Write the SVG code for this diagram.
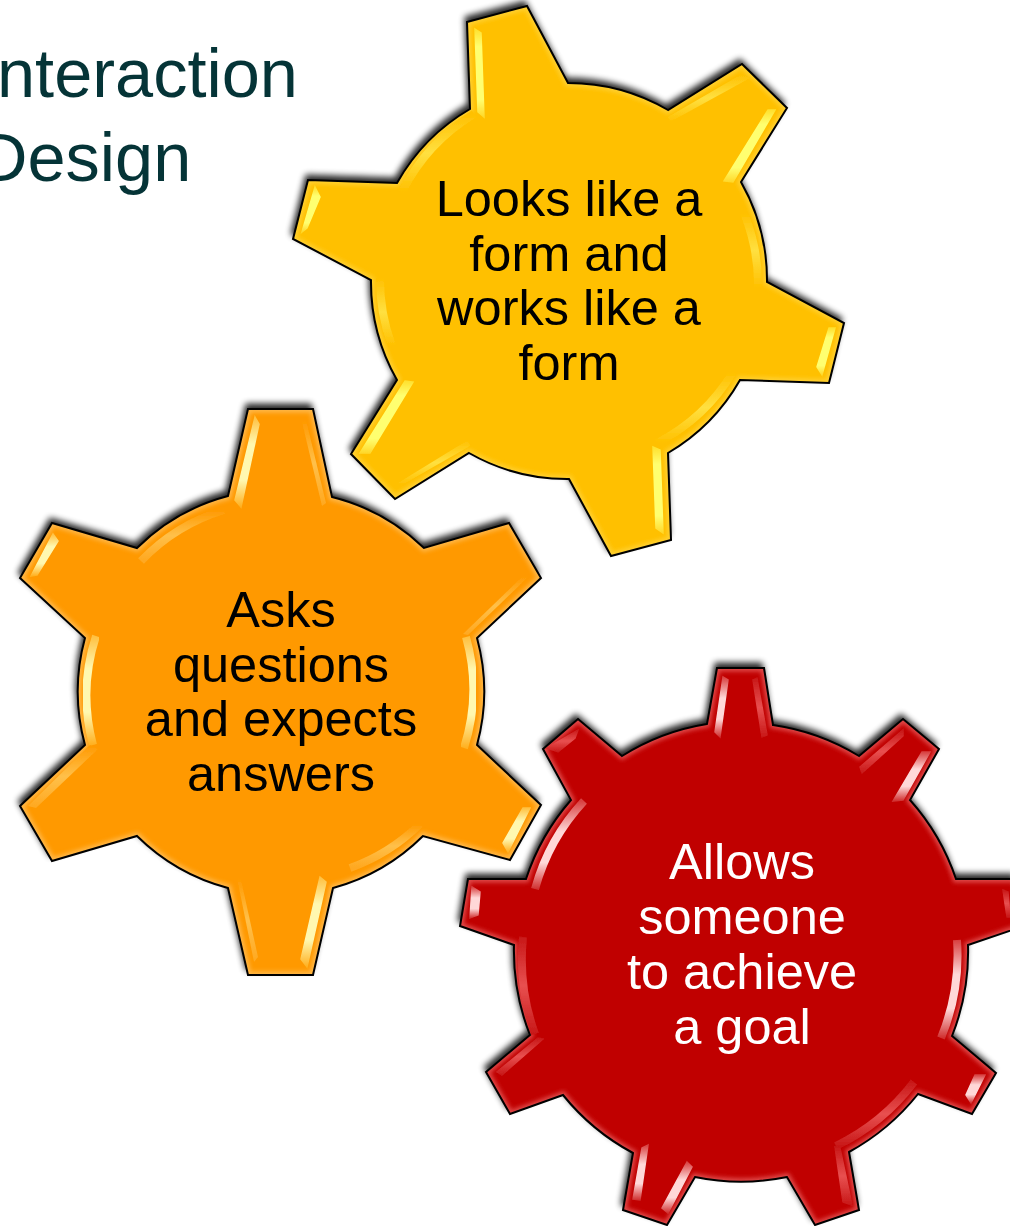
<svg xmlns="http://www.w3.org/2000/svg" width="1010" height="1226" viewBox="0 0 1010 1226">
<style>
.t{font-family:"Liberation Sans",Arial,sans-serif;font-size:50.5px;text-anchor:middle}
.title{font-family:"Liberation Sans",Arial,sans-serif;font-size:68.5px;fill:#053437}
.sh{fill:#000;stroke:#000;stroke-width:1;opacity:.85;filter:url(#shb)}
.edge{fill:none;stroke:#000;stroke-width:2;stroke-linejoin:miter}
.glow{fill:none;stroke-width:7;filter:url(#b2)}
.s{filter:url(#b1);stroke-width:1.500}
.a{fill:none;stroke-width:8;filter:url(#b1)}
.ay{fill:url(#hy);stroke:url(#hy)}.fy{fill:url(#fy)}
.ao{fill:url(#ho);stroke:url(#ho)}.fo{fill:url(#fo)}
.ar{fill:url(#hr);stroke:url(#hr)}.fr{fill:url(#fr);stroke:url(#fr)}
</style>
<defs>
<filter id="shb" x="-10%" y="-10%" width="120%" height="120%"><feGaussianBlur stdDeviation="3"/></filter>
<filter id="b2" x="-10%" y="-10%" width="120%" height="120%"><feGaussianBlur stdDeviation="2"/></filter>
<filter id="b1" x="-30%" y="-30%" width="160%" height="160%"><feGaussianBlur stdDeviation="0.7"/></filter>
<linearGradient id="hy" x1="0" y1="0" x2="0" y2="1"><stop offset="0" stop-color="#ffe02e"/><stop offset=".2" stop-color="#ffff70"/><stop offset=".8" stop-color="#ffff70"/><stop offset="1" stop-color="#ffd82a"/></linearGradient>
<linearGradient id="fy" x1="0" y1="0" x2="0" y2="1"><stop offset="0" stop-color="#ffc000"/><stop offset=".5" stop-color="#ffe040"/><stop offset="1" stop-color="#ffc000"/></linearGradient>
<linearGradient id="ho" x1="0" y1="0" x2="0" y2="1"><stop offset="0" stop-color="#ffc040"/><stop offset=".3" stop-color="#fff8b0"/><stop offset=".7" stop-color="#fff8b0"/><stop offset="1" stop-color="#ffb020"/></linearGradient>
<linearGradient id="fo" x1="0" y1="0" x2="0" y2="1"><stop offset="0" stop-color="#ff9900"/><stop offset=".5" stop-color="#ffc04a"/><stop offset="1" stop-color="#ffa820"/></linearGradient>
<linearGradient id="hr" x1="0" y1="0" x2="0" y2="1"><stop offset="0" stop-color="#d84040"/><stop offset=".35" stop-color="#ffd8d8"/><stop offset=".7" stop-color="#ffd8d8"/><stop offset="1" stop-color="#d03030"/></linearGradient>
<linearGradient id="fr" x1="0" y1="0" x2="0" y2="1"><stop offset="0" stop-color="#c81818"/><stop offset=".5" stop-color="#e85050"/><stop offset="1" stop-color="#c81818"/></linearGradient>
<path id="py" d="M467 22L527 6L568 83A198.500 198.500 0 0 1 668 110L742 64L787 108L741 182A198.500 198.500 0 0 1 767 282L844 323L829 383L740 380A198.500 198.500 0 0 1 668 453L671 540L611 556L569 479A198.500 198.500 0 0 1 469 453L395 499L351 454L397 380A198.500 198.500 0 0 1 371 280L293 239L308 180L397 183A198.500 198.500 0 0 1 470 109Z"/>
<path id="po" d="M248 409L313 409L332 497A203 203 0 0 1 424 548L509 523L541 578L477 638A203 203 0 0 1 477 745L541 805L510 860L423 836A203 203 0 0 1 333 888L313 975L248 975L228 888A203 203 0 0 1 137 836L52 861L20 806L85 745A203 203 0 0 1 85 638L20 578L52 523L137 548A203 203 0 0 1 228 496Z"/>
<path id="pr" d="M717 668L764 668L773 725A228 228 0 0 1 859 756L903 719L939 749L910 800A228 228 0 0 1 956 879L1016 879L1024 926L968 945A228 228 0 0 1 952 1036L996 1073L972 1114L918 1094A228 228 0 0 1 849 1152L859 1210L815 1225L787 1177A228 228 0 0 1 695 1177L667 1225L623 1210L633 1153A228 228 0 0 1 563 1095L510 1114L486 1072L530 1035A228 228 0 0 1 514 945L460 926L468 879L526 879A228 228 0 0 1 571 800L543 749L578 719L622 756A228 228 0 0 1 707 724Z"/>
<clipPath id="cy"><use href="#py"/></clipPath>
<clipPath id="co"><use href="#po"/></clipPath>
<clipPath id="cr"><use href="#pr"/></clipPath>
</defs>
<rect width="1010" height="1226" fill="#fff"/>
<g id="title">
<text class="title" x="-3" y="97">nteraction</text>
<text class="title" x="-22" y="181">Design</text>
</g>
<g id="gear-yellow">
<use href="#py" class="sh" transform="translate(-2,-5)"/>
<use href="#py" fill="#ffc000"/>
<g clip-path="url(#cy)"><use href="#py" class="glow" stroke="#ffd030" stroke-width="7"/></g>
<polygon class="s ay" points="475,29 481,33 484,117 478,112"/>
<path class="a" stroke="url(#fy)" d="M474 114A190 190 0 0 0 402 192"/>
<polygon class="s ay" points="315,187 320,197 307,228 302,232"/>
<polygon class="s ay" points="768,110 775,110 733,182 724,181"/>
<path class="a" stroke="url(#fy)" d="M744 213A190 190 0 0 1 758 288"/>
<polygon class="s ay" points="829,328 835,328 822,375 817,367"/>
<path class="a" stroke="url(#fy)" d="M733 372A190 190 0 0 1 657 443"/>
<polygon class="s ay" points="653,447 660,450 663,533 656,528"/>
<polygon class="s ay" points="405,381 413,382 370,453 360,453"/>
<path class="a" stroke="url(#fy)" d="M380 278A190 190 0 0 0 392 346"/>
<polygon class="s fy" points="468,440 470,446 402,485 398,483"/>
<polygon class="s fy" points="742,74 750,78 670,122 668,117"/>
<use href="#py" class="edge"/>
<text class="t" x="569" y="216">Looks like a</text>
<text class="t" x="569" y="270.500">form and</text>
<text class="t" x="569" y="325">works like a</text>
<text class="t" x="569" y="379.500">form</text>
</g>
<g id="gear-orange">
<use href="#po" class="sh" transform="translate(-2,-5)"/>
<use href="#po" fill="#ff9900"/>
<g clip-path="url(#co)"><use href="#po" class="glow" stroke="#ffb84a" stroke-width="7"/></g>
<polygon class="s ao" points="255,417 259,424 241,507 235,500"/>
<polygon class="s fo" points="302,422 306,420 326,503 322,506"/>
<polygon class="s ao" points="53,534 58,541 37,575 31,576"/>
<path class="a" stroke="url(#ho)" d="M96 636A192 192 0 0 0 93 745"/>
<path class="a" stroke="url(#fo)" d="M141 561A192 192 0 0 1 224 510"/>
<polygon class="s fo" points="90,745 98,749 36,808 28,806"/>
<polygon class="s fo" points="237,878 241,880 258,957 254,962"/>
<polygon class="s ao" points="320,877 326,882 307,967 301,959"/>
<polygon class="s fo" points="523,576 528,577 468,635 463,634"/>
<path class="a" stroke="url(#ho)" d="M466 637A192 192 0 0 1 464 748"/>
<polygon class="s ao" points="523,808 530,808 508,852 503,843"/>
<path class="a" stroke="url(#fo)" d="M420 824A192 192 0 0 1 350 868"/>
<use href="#po" class="edge"/>
<text class="t" x="281" y="627">Asks</text>
<text class="t" x="281" y="681.500">questions</text>
<text class="t" x="281" y="736">and expects</text>
<text class="t" x="281" y="790.500">answers</text>
</g>
<g id="gear-red">
<use href="#pr" class="sh" transform="translate(-2,-5)"/>
<use href="#pr" fill="#c00000"/>
<g clip-path="url(#cr)"><use href="#pr" class="glow" stroke="#e04a4a" stroke-width="7"/></g>
<polygon class="s ar" points="723,677 728,680 720,737 715,732"/>
<polygon class="s fr" points="753,680 757,678 767,735 762,737"/>
<polygon class="s fr" points="860,767 903,730 903,736 862,773"/>
<polygon class="s ar" points="922,752 930,752 903,800 893,801"/>
<polygon class="s fr" points="1003,890 1008,892 1010,917 1007,917"/>
<path class="a" stroke="url(#hr)" d="M957 940A216 216 0 0 1 941 1038"/>
<polygon class="s ar" points="975,1075 985,1075 971,1103 966,1095"/>
<path class="a" stroke="url(#fr)" d="M914 1082A216 216 0 0 1 836 1146"/>
<polygon class="s fr" points="835,1147 840,1148 852,1205 843,1202"/>
<polygon class="s ar" points="642,1148 648,1145 640,1200 633,1199"/>
<polygon class="s ar" points="687,1162 692,1167 668,1213 662,1208"/>
<polygon class="s fr" points="543,1039 538,1038 497,1072 502,1075"/>
<path class="a" stroke="url(#fr)" d="M523 937A218 218 0 0 0 535 1034"/>
<path class="a" stroke="url(#hr)" d="M584 801A212 212 0 0 0 535 889"/>
<polygon class="s ar" points="472,887 480,892 478,915 470,918"/>
<polygon class="s fr" points="578,730 575,738 558,752 547,748"/>
<use href="#pr" class="edge"/>
<text class="t" x="742" y="879" fill="#fff">Allows</text>
<text class="t" x="742" y="934" fill="#fff">someone</text>
<text class="t" x="742" y="989" fill="#fff">to achieve</text>
<text class="t" x="742" y="1044" fill="#fff">a goal</text>
</g>
</svg>
